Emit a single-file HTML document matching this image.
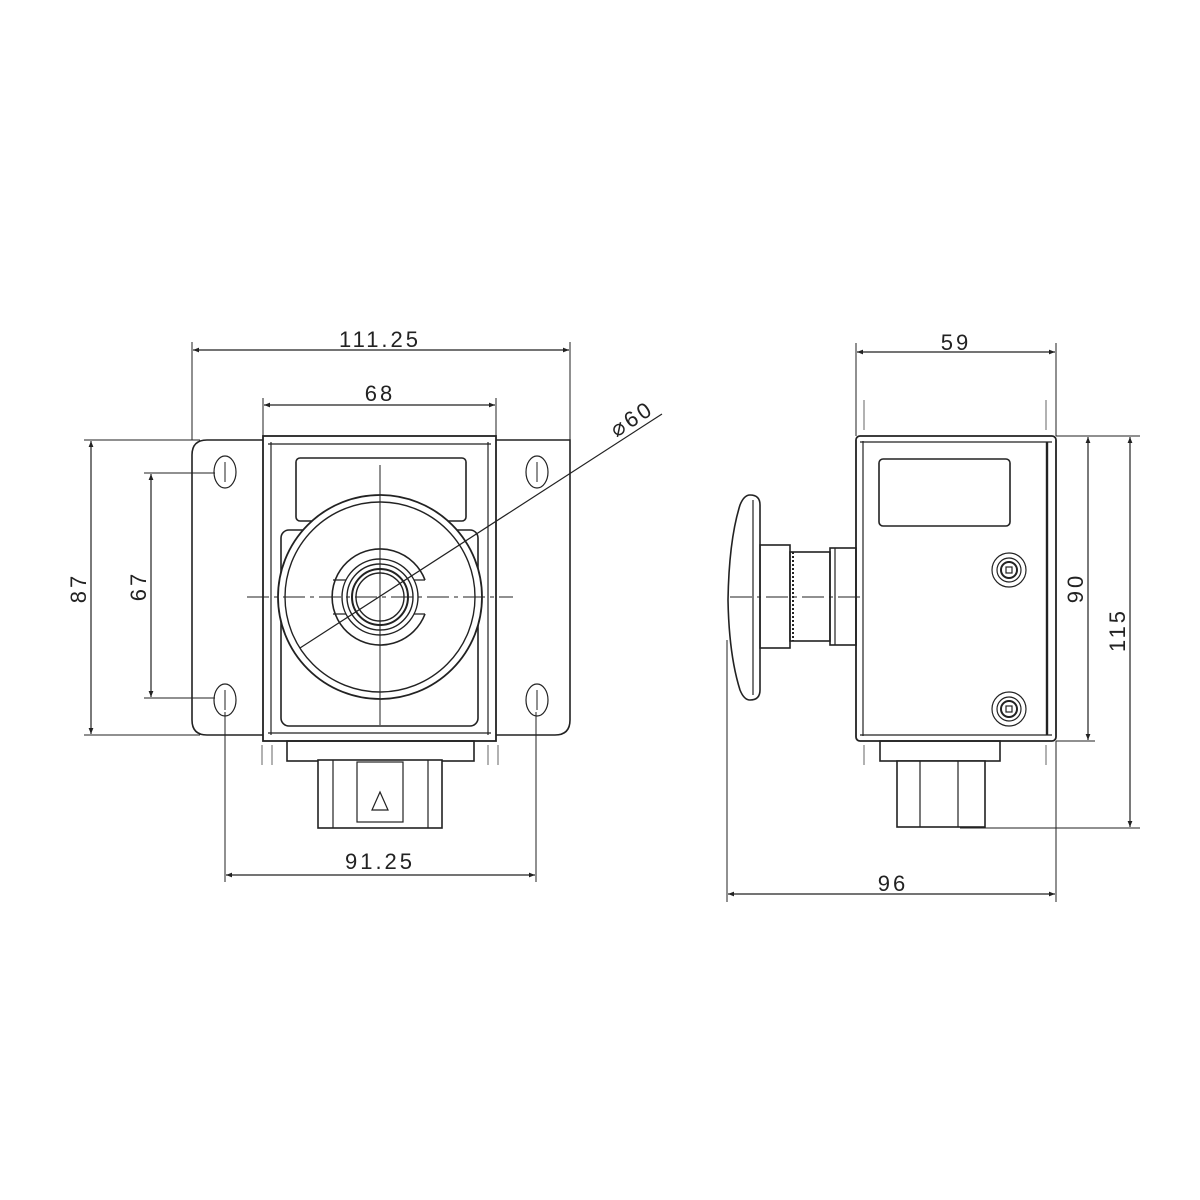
<!DOCTYPE html>
<html><head><meta charset="utf-8"><style>
html,body{margin:0;padding:0;background:#fff}
svg{display:block}
text{font-family:"Liberation Sans",sans-serif;font-size:22px;fill:#222;letter-spacing:3px}
</style></head><body>
<svg width="1200" height="1200" viewBox="0 0 1200 1200" xmlns="http://www.w3.org/2000/svg">
<defs>
<marker id="a" viewBox="0 0 10 10" refX="10" refY="5" markerWidth="10" markerHeight="6" orient="auto-start-reverse" markerUnits="userSpaceOnUse"><path d="M0,1 L10,5 L0,9z" fill="#222"/></marker>
</defs>
<g fill="none" stroke="#222" stroke-width="1.2">
<!-- FRONT VIEW dims -->
<line x1="192" y1="342" x2="192" y2="440" stroke-width="1"/>
<line x1="570" y1="342" x2="570" y2="440" stroke-width="1"/>
<line x1="193" y1="350" x2="569" y2="350" marker-start="url(#a)" marker-end="url(#a)"/>
<line x1="263" y1="398" x2="263" y2="436" stroke-width="1"/>
<line x1="496" y1="398" x2="496" y2="436" stroke-width="1"/>
<line x1="264" y1="405" x2="495" y2="405" marker-start="url(#a)" marker-end="url(#a)"/>
<line x1="84" y1="440" x2="200" y2="440" stroke-width="1"/>
<line x1="84" y1="735" x2="200" y2="735" stroke-width="1"/>
<line x1="91" y1="441" x2="91" y2="734" marker-start="url(#a)" marker-end="url(#a)"/>
<line x1="144" y1="473" x2="215" y2="473" stroke-width="1"/>
<line x1="144" y1="698" x2="215" y2="698" stroke-width="1"/>
<line x1="151" y1="474" x2="151" y2="697" marker-start="url(#a)" marker-end="url(#a)"/>
<line x1="225" y1="712" x2="225" y2="882" stroke-width="1"/>
<line x1="536" y1="712" x2="536" y2="882" stroke-width="1"/>
<line x1="226" y1="875" x2="535" y2="875" marker-start="url(#a)" marker-end="url(#a)"/>
<!-- plate -->
<path d="M207,440 H570 V720 Q570,735 555,735 H207 Q192,735 192,720 V455 Q192,440 207,440Z" stroke-width="1.6"/>
<ellipse cx="225" cy="472" rx="11" ry="16"/><ellipse cx="537" cy="472" rx="11" ry="16"/>
<ellipse cx="225" cy="700" rx="11" ry="16"/><ellipse cx="537" cy="700" rx="11" ry="16"/>
<line x1="225" y1="462" x2="225" y2="482" stroke-width="1"/><line x1="537" y1="462" x2="537" y2="482" stroke-width="1"/>
<line x1="225" y1="690" x2="225" y2="710" stroke-width="1"/><line x1="537" y1="690" x2="537" y2="710" stroke-width="1"/>
<!-- body -->
<rect x="263" y="436" width="233" height="305" fill="#fff" stroke-width="1.8"/>
<line x1="271" y1="442" x2="271" y2="735"/><line x1="488" y1="442" x2="488" y2="735"/>
<line x1="268" y1="444" x2="491" y2="444"/><line x1="268" y1="733" x2="491" y2="733"/>
<rect x="296" y="458" width="170" height="63" rx="4" stroke-width="1.6"/>
<rect x="281" y="530" width="197" height="196" rx="8" stroke-width="1.6"/>
<circle cx="380" cy="597" r="102" fill="#fff" stroke-width="1.8"/>
<circle cx="380" cy="597" r="95" stroke-width="1.4"/>
<path d="M425,580 A48,48 0 1 0 425,614" stroke-width="1.6"/>
<path d="M333,580 L346,580 M333,614 L346,614 M425,580 L414,580 M425,614 L414,614"/>
<circle cx="380" cy="597" r="38" stroke-width="1.4"/>
<circle cx="380" cy="597" r="33" stroke-width="1.4"/>
<circle cx="380" cy="597" r="28" stroke-width="2"/>
<circle cx="380" cy="597" r="24" stroke-width="1.4"/>
<line x1="380" y1="465" x2="380" y2="725" stroke-width="1"/>
<line x1="247" y1="597" x2="513" y2="597" stroke-width="1" stroke-dasharray="22,5,4,5"/>
<line x1="300" y1="648" x2="662" y2="414"/>
<!-- bottom front -->
<rect x="287" y="741" width="187" height="20" stroke-width="1.6"/>
<rect x="318" y="760" width="124" height="68" fill="#fff" stroke-width="1.6"/>
<line x1="333" y1="760" x2="333" y2="828"/><line x1="428" y1="760" x2="428" y2="828"/>
<rect x="357" y="762" width="46" height="60"/>
<path d="M372,810 L380,792 L388,810Z"/>
<g stroke-width="1" stroke="#666"><line x1="262" y1="745" x2="262" y2="765"/><line x1="272" y1="745" x2="272" y2="765"/><line x1="488" y1="745" x2="488" y2="765"/><line x1="498" y1="745" x2="498" y2="765"/></g>

<!-- SIDE VIEW -->
<line x1="856" y1="343" x2="856" y2="436" stroke-width="1"/>
<line x1="1056" y1="343" x2="1056" y2="436" stroke-width="1"/>
<line x1="857" y1="352" x2="1055" y2="352" marker-start="url(#a)" marker-end="url(#a)"/>
<line x1="1056" y1="436" x2="1140" y2="436" stroke-width="1"/>
<line x1="1056" y1="741" x2="1095" y2="741" stroke-width="1"/>
<line x1="960" y1="828" x2="1140" y2="828" stroke-width="1"/>
<line x1="1088" y1="437" x2="1088" y2="740" marker-start="url(#a)" marker-end="url(#a)"/>
<line x1="1130" y1="437" x2="1130" y2="827" marker-start="url(#a)" marker-end="url(#a)"/>
<line x1="727" y1="640" x2="727" y2="902" stroke-width="1"/>
<line x1="1056" y1="741" x2="1056" y2="902" stroke-width="1"/>
<line x1="728" y1="894" x2="1055" y2="894" marker-start="url(#a)" marker-end="url(#a)"/>
<rect x="856" y="436" width="200" height="305" rx="4" stroke-width="1.8"/>
<line x1="863" y1="441" x2="863" y2="736"/>
<line x1="860" y1="442" x2="1052" y2="442"/><line x1="860" y1="735" x2="1052" y2="735"/>
<line x1="1047" y1="442" x2="1047" y2="735" stroke-width="2.4"/>
<rect x="879" y="459" width="131" height="67" rx="4" stroke-width="1.6"/>
<circle cx="1009" cy="570" r="17"/><circle cx="1009" cy="570" r="12"/><circle cx="1009" cy="570" r="8" stroke-width="2"/><rect x="1006" y="567" width="6" height="6"/>
<circle cx="1009" cy="709" r="17"/><circle cx="1009" cy="709" r="12"/><circle cx="1009" cy="709" r="8" stroke-width="2"/><rect x="1006" y="706" width="6" height="6"/>
<!-- button -->
<path d="M750,495 Q760,495 760,505 V690 Q760,700 750,700 Q744,700 740,690 Q729,655 728,600 Q729,540 740,505 Q744,495 750,495Z" stroke-width="1.6"/>
<line x1="753" y1="500" x2="753" y2="695"/>
<rect x="760" y="545" width="30" height="103" stroke-width="1.6"/>
<rect x="790" y="552" width="40" height="89" stroke-width="1.6"/>
<line x1="793" y1="552" x2="793" y2="641" stroke-dasharray="2,2" stroke-width="2"/>
<rect x="830" y="548" width="26" height="97" stroke-width="1.6"/>
<line x1="835" y1="548" x2="835" y2="645"/>
<line x1="730" y1="597" x2="865" y2="597" stroke-width="1" stroke-dasharray="22,5,4,5"/>
<!-- bottom side -->
<rect x="880" y="741" width="120" height="20" stroke-width="1.6"/>
<rect x="897" y="761" width="88" height="66" fill="#fff" stroke-width="1.6"/>
<line x1="920" y1="761" x2="920" y2="827"/><line x1="958" y1="761" x2="958" y2="827"/>
<g stroke-width="1" stroke="#666"><line x1="864" y1="745" x2="864" y2="765"/><line x1="1046" y1="745" x2="1046" y2="765"/><line x1="864" y1="400" x2="864" y2="430"/><line x1="1046" y1="400" x2="1046" y2="430"/></g>
</g>
<text x="380" y="347" text-anchor="middle">111.25</text>
<text x="380" y="401" text-anchor="middle">68</text>
<text x="380" y="869" text-anchor="middle">91.25</text>
<text transform="translate(86,588) rotate(-90)" text-anchor="middle">87</text>
<text transform="translate(146,586) rotate(-90)" text-anchor="middle">67</text>
<text transform="translate(636,425) rotate(-33)" text-anchor="middle">⌀60</text>
<text x="956" y="350" text-anchor="middle">59</text>
<text x="893" y="891" text-anchor="middle">96</text>
<text transform="translate(1083,588) rotate(-90)" text-anchor="middle">90</text>
<text transform="translate(1125,630) rotate(-90)" text-anchor="middle">115</text>
</svg>
</body></html>
